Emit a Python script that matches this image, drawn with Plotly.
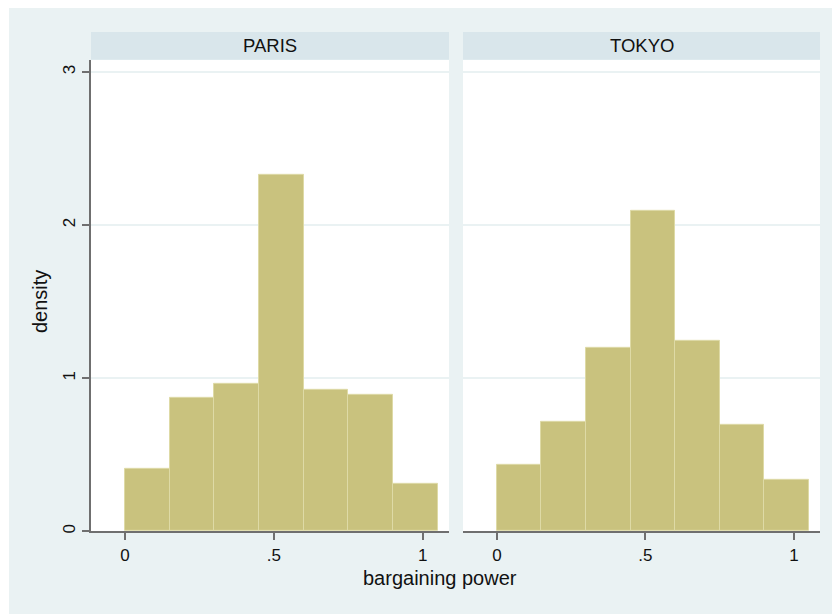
import plotly.graph_objects as go

# data
bin_starts = [0.0, 0.15, 0.30, 0.45, 0.60, 0.75, 0.90]
bin_width = 0.15
paris_density = [0.405, 0.874, 0.963, 2.33, 0.926, 0.893, 0.308]
tokyo_density = [0.432, 0.717, 1.199, 2.096, 1.242, 0.693, 0.334]
panel_titles = ["PARIS", "TOKYO"]
x_tickvals = [0, 0.5, 1]
x_ticktext = ["0", ".5", "1"]
y_tickvals = [0, 1, 2, 3]
y_ticktext = ["0", "1", "2", "3"]

W, H = 840, 614
OFF = 8  # page body margin offset
BAR = "#C9C27E"
BAR_EDGE = "#DEDAA6"
OUTER = "#EAF2F3"
STRIP = "#D9E6EB"
AXIS = "#6F6F6F"
GRID = "#EAF2F3"
FONT = "Liberation Sans, Arial, sans-serif"

def px(xp):
    return (xp - OFF) / W

def py(yp):
    return (H - (yp - OFF)) / H

panels = [(91, 449), (463, 820)]
top, bottom, strip_top = 60, 533, 32

fig = go.Figure()
for i, dens in enumerate([paris_density, tokyo_density]):
    fig.add_trace(go.Bar(
        x=bin_starts, y=dens, width=bin_width, offset=0,
        marker=dict(color=BAR, line=dict(color=BAR_EDGE, width=1)),
        xaxis="x" if i == 0 else "x2", yaxis="y" if i == 0 else "y2",
        showlegend=False, hoverinfo="skip",
    ))

xr = [-0.114, 1.088]
yr = [0, 3.08]
common_x = dict(range=xr, tickvals=x_tickvals, ticktext=x_ticktext,
                showgrid=False, zeroline=False, showline=True, linecolor=AXIS,
                linewidth=2, ticks="outside", ticklen=7, tickwidth=1.5,
                tickcolor=AXIS, tickfont=dict(size=17, color="#111", family=FONT),
                fixedrange=True)
fig.update_layout(
    width=W, height=H,
    margin=dict(l=0, r=0, t=0, b=0),
    paper_bgcolor="white", plot_bgcolor="white",
    bargap=0,
    xaxis=dict(domain=[px(panels[0][0]), px(panels[0][1])], anchor="y", **common_x),
    xaxis2=dict(domain=[px(panels[1][0]), px(panels[1][1])], anchor="y2", **common_x),
    yaxis=dict(domain=[py(bottom), py(top)], anchor="x", range=yr,
               tickvals=y_tickvals, ticktext=y_ticktext, tickangle=-90,
               showgrid=True, gridcolor=GRID, gridwidth=1.5, zeroline=False,
               showline=True, linecolor=AXIS, linewidth=2, ticks="outside",
               ticklen=7, tickwidth=1.5, tickcolor=AXIS,
               tickfont=dict(size=17, color="#111", family=FONT), fixedrange=True),
    yaxis2=dict(domain=[py(bottom), py(top)], anchor="x2", range=yr,
                tickvals=y_tickvals, showticklabels=False,
                showgrid=True, gridcolor=GRID, gridwidth=1.5, zeroline=False,
                showline=False, ticks="", fixedrange=True),
)

shapes = [dict(type="rect", xref="paper", yref="paper", x0=px(9), x1=1.0,
               y0=0, y1=1.0, fillcolor=OUTER, line=dict(width=0), layer="below")]
for (l, r) in panels:
    shapes.append(dict(type="rect", xref="paper", yref="paper", x0=px(l), x1=px(r),
                       y0=py(bottom), y1=py(top), fillcolor="white",
                       line=dict(width=0), layer="below"))
    shapes.append(dict(type="rect", xref="paper", yref="paper", x0=px(l), x1=px(r),
                       y0=py(top), y1=py(strip_top), fillcolor=STRIP,
                       line=dict(width=0), layer="below"))
fig.update_layout(shapes=shapes)

annotations = []
for (l, r), t in zip(panels, panel_titles):
    annotations.append(dict(text=t, xref="paper", yref="paper",
                            x=px((l + r) / 2), y=py((top + strip_top) / 2),
                            showarrow=False, xanchor="center", yanchor="middle",
                            font=dict(size=18.5, color="#111", family=FONT)))
annotations.append(dict(text="bargaining power", xref="paper", yref="paper",
                        x=px(440), y=py(580), showarrow=False,
                        xanchor="center", yanchor="middle",
                        font=dict(size=20, color="#111", family=FONT)))
annotations.append(dict(text="density", xref="paper", yref="paper",
                        x=px(40), y=py(303), showarrow=False, textangle=-90,
                        xanchor="center", yanchor="middle",
                        font=dict(size=20, color="#111", family=FONT)))
fig.update_layout(annotations=annotations)

fig.write_html("out.html")
